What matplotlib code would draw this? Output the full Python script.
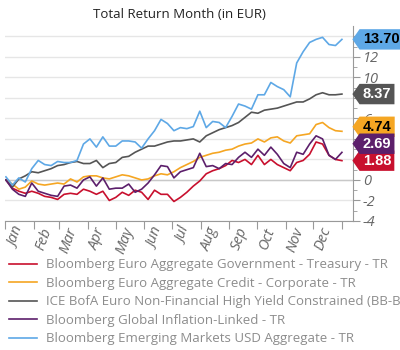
import numpy as np
import pandas as pd
import matplotlib
matplotlib.use('Agg')
import matplotlib.pyplot as plt
import matplotlib.dates as mdates
import matplotlib.transforms as mtransforms
from matplotlib.path import Path

# weekly closes, total return in % since start of year (EUR)
dates = pd.date_range('2023-01-02', periods=53, freq='7D')

treasury = [0.0, -0.8, -1.1, -1.3, -1.1, -1.3, -1.6, -1.7, -1.9, -1.4, -1.3, -1.4, -0.9,
            -1.1, -1.4, -1.1, -2.0, -1.7, -1.2, -1.5, -1.0, -1.2, -1.9, -1.0, -1.4, -1.4,
            -2.1, -1.7, -1.2, -0.6, -0.1, 0.6, 0.9, 1.1, 1.4, 1.9, 1.7, 2.0, 1.5, 2.4,
            1.5, 2.0, 1.5, 1.2, 0.9, 1.7, 1.9, 2.5, 3.7, 3.5, 2.4, 2.0, 1.88]
corporate = [0.0, -0.4, -0.9, -0.7, -0.1, -0.4, -0.5, -0.4, -0.3, -0.4, 0.1, -0.2, 0.3,
             0.4, 0.4, 0.2, 0.1, 0.3, 0.5, 0.4, 0.2, 0.0, 0.1, 0.4, 0.6, 0.5,
             0.8, 1.2, 1.5, 1.8, 2.2, 2.4, 2.6, 2.7, 2.9, 3.0, 3.3, 3.5, 3.6, 4.0,
             3.7, 4.1, 4.2, 3.8, 3.6, 4.3, 4.4, 4.5, 5.4, 5.6, 5.1, 4.8, 4.74]
high_yield = [0.0, -0.7, 0.1, 0.4, 0.8, 0.7, 0.9, 1.1, 1.4, 1.5, 1.7, 1.8, 1.6,
              1.6, 1.9, 1.2, 1.6, 1.7, 2.2, 2.3, 2.7, 3.0, 3.3, 3.3, 3.5, 3.7,
              3.8, 3.8, 3.9, 4.0, 3.7, 4.3, 4.6, 4.9, 5.1, 5.3, 5.6, 6.1, 6.6, 6.5,
              6.8, 6.9, 7.0, 7.2, 7.4, 7.6, 7.6, 7.9, 8.3, 8.5, 8.3, 8.3, 8.37]
inflation = [0.0, -0.9, -1.4, -1.6, -0.3, -1.1, -1.3, -1.5, -1.6, -0.6, -0.5, -0.8, 0.0,
             0.3, -0.6, 0.2, -0.9, -0.8, -0.8, -0.4, -1.2, -0.9, -0.3, 0.5, 1.4, 1.3,
             0.2, 0.8, 1.0, 1.2, 2.6, 1.3, 1.4, 1.1, 1.6, 1.5, 2.2, 2.7, 2.2, 3.0,
             2.4, 3.2, 2.5, 1.6, 1.2, 2.7, 2.5, 3.5, 4.3, 4.0, 2.4, 2.0, 2.69]
em_usd = [0.3, -0.5, 0.2, -0.2, 1.1, 1.9, 1.5, 1.4, 1.8, 1.7, 1.7, 1.9, 3.5,
          4.0, 3.2, 4.2, 3.3, 3.3, 3.8, 3.8, 3.7, 3.1, 4.0, 4.8, 5.9, 5.5,
          4.8, 5.1, 5.0, 5.2, 6.7, 5.1, 5.7, 5.6, 5.1, 6.2, 7.4, 7.2, 6.9, 8.3,
          8.3, 9.5, 9.1, 8.8, 8.1, 11.4, 12.5, 13.4, 13.7, 13.9, 13.2, 13.1, 13.70]

names = ['Bloomberg Euro Aggregate Government - Treasury - TR',
         'Bloomberg Euro Aggregate Credit - Corporate - TR',
         'ICE BofA Euro Non-Financial High Yield Constrained (BB-B) - TR',
         'Bloomberg Global Inflation-Linked - TR',
         'Bloomberg Emerging Markets USD Aggregate - TR']
series = [treasury, corporate, high_yield, inflation, em_usd]
colors = ['#c8102e', '#f5a623', '#555555', '#5c1f6b', '#5ea8e6']
tag_text = ['white', 'black', 'white', 'white', 'black']


def tag_box(x0, y0, width, height, mutation_size):
    # box with a pointed left side, like a price tag
    pad = mutation_size * 0.22
    x0 -= pad
    y0 -= pad
    w = width + 2 * pad
    h = height + 2 * pad
    tip = h * 0.35
    verts = [(x0 - tip, y0 + h / 2), (x0, y0), (x0 + w, y0), (x0 + w, y0 + h),
             (x0, y0 + h), (x0 - tip, y0 + h / 2)]
    return Path(verts, closed=True)


plt.rcParams['font.family'] = ['Open Sans', 'DejaVu Sans']
fig = plt.figure(figsize=(4, 3.5), dpi=100)
ax = fig.add_axes([0.0125, 0.3686, 0.87, 0.557])

for s, c, n in zip(series, colors, names):
    ax.plot(dates, s, color=c, lw=1.2, label=n)

# last value tags, pushed apart so they do not overlap
order = np.argsort([s[-1] for s in series])
tag_y = {}
prev = -99
for i in order:
    y = max(series[i][-1], prev + 1.65)
    tag_y[i] = y
    prev = y

ax.set_ylim(-4, 15)
ax.set_xlim(pd.Timestamp('2023-01-01'), pd.Timestamp('2024-01-13'))
yt = np.arange(-4, 15, 2)
ax.set_yticks(yt)
# labels that sit fully behind a tag are not shown
ax.set_yticklabels(['' if min(abs(v - t) for t in tag_y.values()) < 0.75 else '%d' % v
                    for v in yt])
ax.set_yticks(np.arange(-3, 15, 2), minor=True)
ax.grid(axis='y', color='#e6e6e6', lw=1)
ax.axhline(0, color='#c8c8c8', lw=1, zorder=1)
ax.set_axisbelow(True)

ax.yaxis.tick_right()
for sp in ['left', 'top']:
    ax.spines[sp].set_visible(False)
for sp in ['right', 'bottom']:
    ax.spines[sp].set_color('#999999')
ax.tick_params(axis='y', which='major', length=5, color='#999999', labelcolor='#666666',
               labelsize=10.5, pad=2)
ax.tick_params(axis='y', which='minor', length=3, color='#999999')
for lab in ax.get_yticklabels():
    lab.set_style('italic')

ax.xaxis.set_major_locator(mdates.MonthLocator())
ax.xaxis.set_major_formatter(plt.NullFormatter())
ax.xaxis.set_minor_locator(mdates.MonthLocator(bymonthday=16))
ax.xaxis.set_minor_formatter(mdates.DateFormatter('%b'))
ax.tick_params(axis='x', which='major', length=6, color='#999999')
ax.tick_params(axis='x', which='minor', length=0, labelsize=10.5, labelcolor='#666666', pad=5)
for lab in ax.get_xticklabels(minor=True):
    lab.set_style('italic')
    lab.set_rotation(70)
    lab.set_ha('right')
    lab.set_va('center')
    lab.set_rotation_mode('anchor')

trans = mtransforms.blended_transform_factory(ax.transAxes, ax.transData)
for i, s in enumerate(series):
    ax.text(1.028, tag_y[i], '%.2f' % s[-1], transform=trans, ha='left', va='center',
            fontsize=10.5, fontweight='bold', family='Liberation Sans', color=tag_text[i],
            bbox=dict(boxstyle=tag_box, fc=colors[i], ec='none'), zorder=5)

fig.text(0.4475, 0.96, 'Total Return Month (in EUR)', ha='center', va='center',
         fontsize=9.5, color='#222222')

fig.legend(loc='upper left', bbox_to_anchor=(0.022, 0.262), frameon=False, fontsize=9.5,
           labelcolor='#8c8c8c', handlelength=2.1, handletextpad=0.7, labelspacing=0.42,
           borderaxespad=0, borderpad=0)

fig.savefig('out.png', dpi=100)
